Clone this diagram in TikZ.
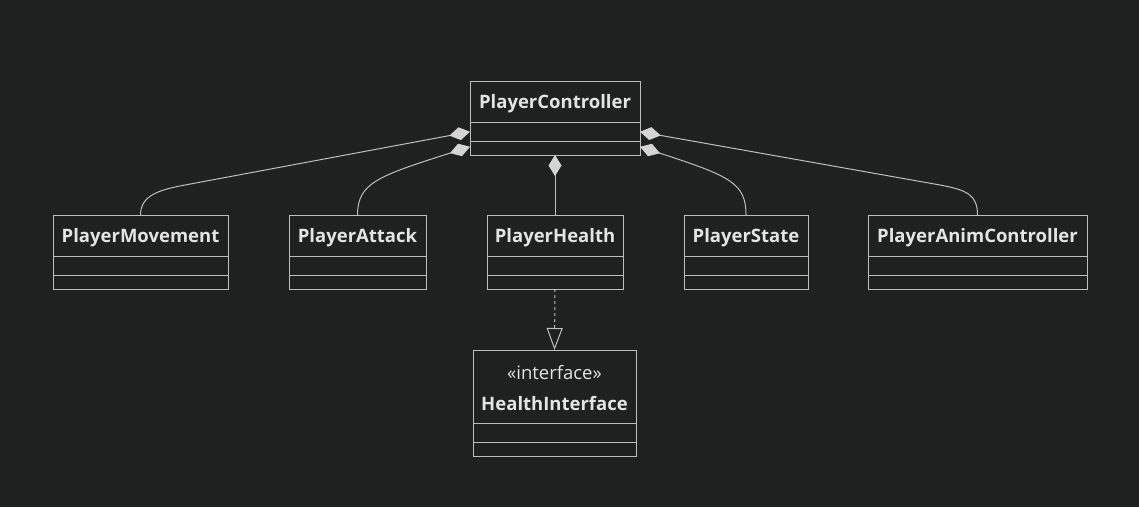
\documentclass[tikz,border=0pt]{standalone}
\usepackage{fontspec}
\setmainfont{Open Sans}
\usetikzlibrary{arrows.meta,positioning}
\definecolor{bgdark}{RGB}{31,32,32}
\definecolor{boxline}{RGB}{190,190,190}
\definecolor{txtlight}{RGB}{228,228,228}
\definecolor{diafill}{RGB}{212,212,212}

\tikzset{
  classhead/.style={draw=boxline, fill=bgdark, line width=1pt, minimum width=#1, minimum height=41pt,
    inner sep=0pt, outer sep=0pt, text=txtlight, font=\fontsize{18.5}{22}\selectfont\bfseries},
  classname/.style={classhead=#1, text height=14pt, text depth=1pt},
  classpart/.style={draw=boxline, fill=bgdark, line width=1pt, minimum width=#1, minimum height=19.5pt,
    inner sep=0pt, outer sep=0pt},
  classtail/.style={classpart=#1, minimum height=13.5pt},
  compo/.style={draw=boxline, line width=1pt, -{Diamond[length=21pt,width=13pt,color=diafill]}},
  realize/.style={draw=boxline, line width=1pt, dash pattern=on 3pt off 3pt,
    -{Triangle[open,length=22pt,width=16pt]}}
}

\begin{document}
\begin{tikzpicture}[x=1pt,y=-1pt]
  \fill[bgdark] (0,0) rectangle (1139,507);
  \useasboundingbox (0,0) rectangle (1139,507);

  % PlayerController
  \node[classname=170pt] (pc) at (555,101.5) {PlayerController};
  \node[classpart=170pt, below=0pt of pc] (pc-a) {};
  \node[classtail=170pt, below=0pt of pc-a] (pc-b) {};

  % components
  \node[classname=175pt] (pm) at (140.5,235.5) {PlayerMovement};
  \node[classpart=175pt, below=0pt of pm] (pm-a) {};
  \node[classtail=175pt, below=0pt of pm-a] (pm-b) {};

  \node[classname=137pt] (pa) at (357.5,235.5) {PlayerAttack};
  \node[classpart=137pt, below=0pt of pa] (pa-a) {};
  \node[classtail=137pt, below=0pt of pa-a] (pa-b) {};

  \node[classname=136pt] (ph) at (555,235.5) {PlayerHealth};
  \node[classpart=136pt, below=0pt of ph] (ph-a) {};
  \node[classtail=136pt, below=0pt of ph-a] (ph-b) {};

  \node[classname=124pt] (ps) at (746,235.5) {PlayerState};
  \node[classpart=124pt, below=0pt of ps] (ps-a) {};
  \node[classtail=124pt, below=0pt of ps-a] (ps-b) {};

  \node[classname=219pt] (pac) at (977.5,235.5) {PlayerAnimController};
  \node[classpart=219pt, below=0pt of pac] (pac-a) {};
  \node[classtail=219pt, below=0pt of pac-a] (pac-b) {};

  % interface
  \node[classhead=163pt, minimum height=73pt, align=center, font=\fontsize{18.5}{31}\selectfont\bfseries] (hi) at (554.5,386.5)
    {\rule{0pt}{17pt}{\mdseries «interface»}\\\rule{0pt}{15pt}HealthInterface};
  \node[classpart=163pt, below=0pt of hi] (hi-a) {};
  \node[classtail=163pt, below=0pt of hi-a] (hi-b) {};

  % composition links
  \draw[compo] (pm.north) .. controls (140.5,195) and (160,189.7) .. (185,185) -- (pc-a.west);
  \draw[compo] (pa.north) .. controls (357.5,183) and (378,176) .. ([yshift=1.5pt]pc-b.west);
  \draw[compo] (ph.north) -- (pc-b.south);
  \draw[compo] (ps.north) .. controls (746,183) and (730,176) .. ([yshift=1.5pt]pc-b.east);
  \draw[compo] (pac.north) .. controls (977.5,195) and (967,190) .. (940,185) -- (pc-a.east);

  % realization
  \draw[realize] (ph-b.south) -- (hi.north);
\end{tikzpicture}
\end{document}
